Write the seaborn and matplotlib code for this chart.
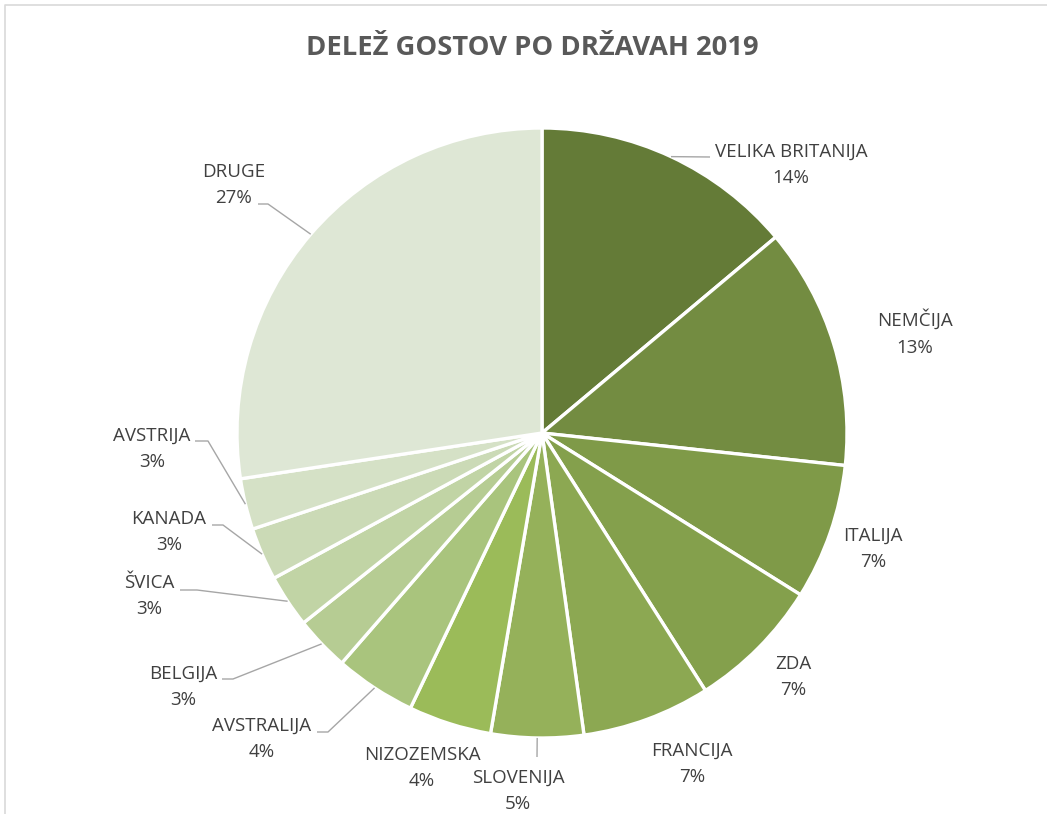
import numpy as np
import matplotlib
matplotlib.use("Agg")
import matplotlib.pyplot as plt
import seaborn as sns

# ---- data ----
countries = ["VELIKA BRITANIJA", "NEMČIJA", "ITALIJA", "ZDA", "FRANCIJA",
             "SLOVENIJA", "NIZOZEMSKA", "AVSTRALIJA", "BELGIJA", "ŠVICA",
             "KANADA", "AVSTRIJA", "DRUGE"]
shares = [13.9, 12.8, 7.2, 7.1, 6.8, 4.9, 4.4, 4.3, 2.9, 2.8, 2.8, 2.7, 27.4]
title = "DELEŽ GOSTOV PO DRŽAVAH 2019"

# ---- style ----
colors = ["#647B37", "#738C41", "#7F9A48", "#84A04C", "#8CA852", "#95B15A",
          "#9BBB59", "#A9C47D", "#B6CC93", "#C1D4A5", "#CBDAB6", "#D5E1C6",
          "#DEE7D5"]

sns.set_theme(style="white")
plt.rcParams["font.family"] = ["Open Sans", "DejaVu Sans"]

W, H = 1047, 814
fig = plt.figure(figsize=(W / 100, H / 100), dpi=100)
ax = fig.add_axes([0, 0, 1, 1])

cx, cy, R = 542, H - 433, 305
wedges, _ = ax.pie(shares, colors=colors, startangle=90, counterclock=False,
                   center=(cx, cy), radius=R,
                   wedgeprops=dict(edgecolor="white", linewidth=2.4))
ax.set_xlim(0, W)
ax.set_ylim(0, H)
ax.set_aspect("equal")
ax.axis("off")

# label layout in pixel coordinates (x, y from top): text block centre,
# optional leader-line points (from elbow to text side)
label_pos = [(791, 165), (915, 333), (873, 549), (793, 677), (692, 764),
             (518, 791), (422, 768), (262, 739), (183, 687), (149, 596),
             (169, 532), (152, 449), (234, 185)]
leaders = [[(710, 157)], None, None, None, None,
           [(537, 757)], None, [(328, 732), (317, 732)],
           [(233, 679), (222, 679)], [(197, 590), (180, 590)],
           [(223, 525), (212, 525)], [(208, 441), (195, 441)],
           [(268, 204), (258, 204)]]

txt_color = "#404040"
line_color = "#A6A6A6"
for w, name, val, (tx, ty), lead in zip(wedges, countries, shares, label_pos, leaders):
    ax.text(tx, H - ty, f"{name}\n{round(val)}%", ha="center", va="center",
            fontsize=13.5, color=txt_color, linespacing=1.6)
    if lead:
        mid = np.deg2rad((w.theta1 + w.theta2) / 2)
        ex, ey = cx + R * np.cos(mid), cy + R * np.sin(mid)
        xs = [ex] + [p[0] for p in lead]
        ys = [ey] + [H - p[1] for p in lead]
        ax.plot(xs, ys, color=line_color, lw=1.0, solid_capstyle="butt")

ax.text(532, H - 48, title, ha="center", va="center", fontsize=19.7,
        fontweight="bold", color="#595959")

# chart frame (top and left edge visible)
ax.plot([5, 5, W + 5], [0, H - 5, H - 5], color="#D9D9D9", lw=1.2, clip_on=False)

fig.savefig("out.png", dpi=100)
